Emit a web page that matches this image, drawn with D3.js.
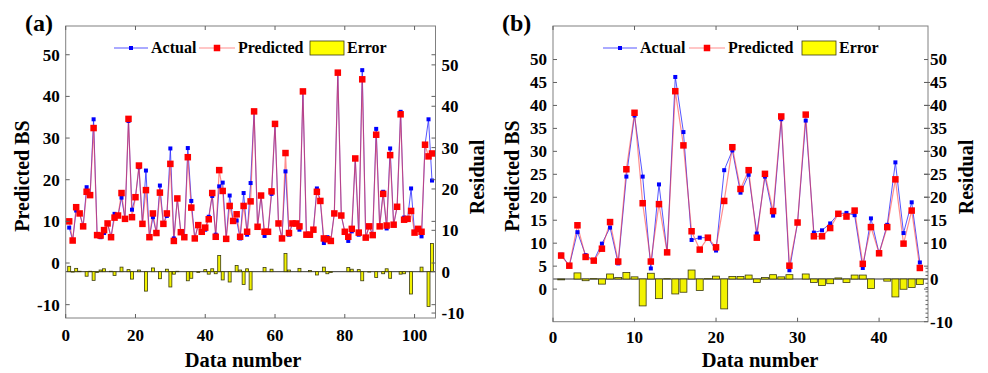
<!DOCTYPE html>
<html><head><meta charset="utf-8">
<script src="https://cdn.jsdelivr.net/npm/d3@7"></script>
<style>
body{margin:0;background:#fff}
svg{display:block}
text{font-family:"Liberation Serif","Times New Roman",serif;font-weight:bold;fill:#000}
</style>
</head><body>
<svg id="chart" width="988" height="373"></svg>
<script>
// ---------- data: panel (a) training set ----------
const predA = [10.0,5.4,13.4,11.9,8.8,17.1,16.3,32.4,6.7,6.6,
 7.9,9.5,6.2,10.9,11.4,16.8,10.6,34.6,11.0,15.8,
 23.4,9.4,17.5,6.2,11.9,7.2,16.9,9.4,11.9,23.8,
 5.3,15.5,7.4,6.2,25.4,13.3,5.9,9.1,7.5,8.5,
 10.5,16.8,6.3,22.3,17.3,5.8,13.7,10.1,11.7,6.3,
 13.7,7.5,14.8,36.4,8.7,16.2,7.5,7.5,17.2,33.4,
 9.5,5.9,26.4,7.2,9.5,9.5,8.8,41.2,6.8,6.8,
 8.0,17.1,14.9,5.9,5.7,5.3,11.9,45.7,11.4,7.5,
 6.3,8.2,25.1,7.3,44.1,6.1,8.8,6.7,30.8,8.8,
 16.6,9.0,25.9,9.2,13.5,35.7,10.4,10.6,12.5,7.3,
 8.2,7.5,28.4,25.6,26.3];
const actA = [8.5,5.5,12.6,11.9,8.8,18.2,16.3,34.5,6.9,6.2,
 7.2,9.5,6.2,11.8,11.4,15.7,10.6,34.1,12.8,15.8,
 23.0,9.4,22.2,6.2,11.0,7.2,18.6,9.4,11.3,27.5,
 5.9,15.5,7.4,6.2,27.6,14.9,5.9,9.3,7.5,8.0,
 11.1,16.1,6.8,18.4,19.3,5.8,16.2,10.1,10.2,5.9,
 16.8,6.8,19.2,36.4,8.7,16.2,6.5,7.5,16.6,33.4,
 9.5,5.9,22.0,6.8,9.5,9.5,8.0,41.2,6.8,6.5,
 8.0,17.9,14.9,4.8,6.2,5.5,11.9,45.7,11.4,7.5,
 5.3,7.6,25.1,6.8,46.3,6.1,8.9,6.7,32.2,8.8,
 17.1,8.3,27.5,9.2,13.5,36.3,10.9,10.6,17.9,7.3,
 8.2,6.4,28.4,34.5,19.8];
const errA = [1.3,-0.1,0.8,0.1,0.0,-1.1,0.1,-2.1,-0.2,0.4,
 0.7,0.0,0.1,-0.9,0.0,1.1,0.0,0.5,-1.8,0.0,
 0.4,0.0,-4.7,0.0,0.9,0.0,-1.7,0.0,0.6,-3.7,
 -0.6,0.1,0.0,0.0,-2.2,-1.6,0.0,-0.2,0.0,0.5,
 -0.6,0.7,-0.5,3.9,-2.0,0.0,-2.5,0.0,1.5,0.4,
 -3.1,0.7,-4.4,0.0,0.0,0.0,1.0,0.0,0.6,0.0,
 0.0,0.0,4.4,0.4,0.0,0.0,0.8,0.0,0.0,0.3,
 0.0,-0.8,0.0,1.1,-0.5,-0.2,0.0,0.0,0.0,0.0,
 1.0,0.6,0.0,0.5,-2.2,0.0,-0.1,0.0,-1.4,0.0,
 -0.5,0.7,-1.6,0.0,0.0,-0.6,-0.5,0.0,-5.4,0.0,
 0.0,1.1,0.0,-8.4,6.8];

// ---------- data: panel (b) testing set ----------
const predB = [7.3,5.1,13.9,7.0,6.2,8.8,14.6,6.0,26.1,38.4,
 18.7,6.0,18.5,8.0,43.1,31.3,12.6,8.6,11.2,9.1,
 19.2,30.9,21.8,25.9,11.2,25.1,17.0,37.6,5.1,14.5,
 38.0,11.5,11.5,13.3,16.4,15.8,17.1,5.5,13.5,7.8,
 13.5,23.9,9.9,17.1,4.6];
const actB = [7.5,5.1,12.4,7.4,6.2,9.9,13.4,5.6,24.5,37.8,
 24.5,4.5,22.8,8.0,46.2,34.2,10.7,11.2,11.2,8.4,
 25.9,30.2,21.0,24.9,12.1,24.5,16.0,37.0,4.1,14.5,
 36.7,12.3,12.8,14.3,16.4,16.6,16.1,4.6,15.4,7.8,
 14.0,27.6,12.2,18.9,5.8];
const errB = [-0.2,0.0,1.7,-0.4,0.1,-1.2,1.4,0.4,1.8,0.6,
 -6.3,1.6,-4.6,0.1,-3.5,-3.1,2.5,-2.7,0.1,0.8,
 -7.0,0.7,0.7,1.1,-0.8,0.4,1.2,0.6,1.2,0.0,
 1.4,-0.8,-1.5,-1.1,0.3,-0.8,1.1,1.1,-2.2,0.0,
 -0.5,-4.2,-2.4,-2.0,-1.3];

// ---------- tick labels ----------
const xTicksA = [0,20,40,60,80,100];
const yTicksA = [-10,0,10,20,30,40,50];
const rTicksA = [-10,0,10,20,30,40,50];
const xTicksB = [0,10,20,30,40];
const yTicksB = [0,5,10,15,20,25,30,35,40,45,50];
const rTicksB = [-10,0,10,15,20,25,30,35,40,45,50];
const rMinorB = [-9,-8,-7,-6,-5,-4,-3,-2,-1,1,2,3];
const legendLabels = ["Actual","Predicted","Error"];
const panelLabels = ["(a)","(b)"];
const xTitle = "Data number", yTitle = "Predicted BS", rTitle = "Residual";

const svg = d3.select("#chart");

function panel(cfg) {
  const {L,R,T,B} = cfg;
  const n = cfg.pred.length;
  const idx = d3.range(1, n + 1);
  const x = d3.scaleLinear().domain(cfg.xDom).range([L,R]);
  const y = d3.scaleLinear().domain(cfg.yDom).range([B,T]);
  const r = d3.scaleLinear().domain(cfg.rDom).range(cfg.rRange);
  const g = svg.append("g");
  const step = x(2) - x(1);
  const bw = step * cfg.barFrac;

  // bars (residual, right axis)
  g.append("line").attr("x1",L).attr("x2",R).attr("y1",r(0)).attr("y2",r(0))
    .attr("stroke","#333").attr("stroke-width",1);
  g.selectAll("rect.bar").data(cfg.err).join("rect").attr("class","bar")
    .attr("x",(d,i)=>x(idx[i]) - bw/2)
    .attr("y",d=>Math.min(r(d), r(0)))
    .attr("width",bw)
    .attr("height",d=>Math.abs(r(d)-r(0)))
    .attr("fill","#f2f200").attr("stroke","#3a3a10").attr("stroke-width",0.8);

  // lines
  const lineGen = arr => d3.line().x((d,i)=>x(idx[i])).y(d=>y(d))(arr);
  g.append("path").attr("d",lineGen(cfg.act)).attr("fill","none")
    .attr("stroke","#2a2aff").attr("stroke-opacity",0.8).attr("stroke-width",1);
  g.append("path").attr("d",lineGen(cfg.pred)).attr("fill","none")
    .attr("stroke","#ff3030").attr("stroke-opacity",0.55).attr("stroke-width",1.2);
  const bs = 4, rs = 6.5;
  g.selectAll("rect.am").data(cfg.act).join("rect").attr("class","am")
    .attr("x",(d,i)=>x(idx[i])-bs/2).attr("y",d=>y(d)-bs/2)
    .attr("width",bs).attr("height",bs).attr("fill","#0000ff");
  g.selectAll("rect.pm").data(cfg.pred).join("rect").attr("class","pm")
    .attr("x",(d,i)=>x(idx[i])-rs/2).attr("y",d=>y(d)-rs/2)
    .attr("width",rs).attr("height",rs).attr("fill","#ff0000");

  // box
  g.append("rect").attr("x",L).attr("y",T).attr("width",R-L).attr("height",B-T)
    .attr("fill","none").attr("stroke","#808080").attr("stroke-width",1);

  const tk = 4, tc = "#606060";
  // x ticks (bottom + top, inward)
  cfg.xTicks.forEach(v=>{
    g.append("line").attr("x1",x(v)).attr("x2",x(v)).attr("y1",B).attr("y2",B-tk).attr("stroke",tc);
    g.append("line").attr("x1",x(v)).attr("x2",x(v)).attr("y1",T).attr("y2",T+tk).attr("stroke",tc);
    g.append("text").attr("x",x(v)).attr("y",cfg.xLabY).attr("text-anchor","middle")
      .attr("font-size",17).text(v);
  });
  // left ticks (left side + mirrored on right)
  cfg.yTicks.forEach(v=>{
    g.append("line").attr("x1",L).attr("x2",L+tk).attr("y1",y(v)).attr("y2",y(v)).attr("stroke",tc);
    g.append("line").attr("x1",R).attr("x2",R-tk).attr("y1",y(v)).attr("y2",y(v)).attr("stroke",tc);
    g.append("text").attr("x",L-6).attr("y",y(v)).attr("dy","0.35em").attr("text-anchor","end")
      .attr("font-size",17).text(v);
  });
  // right ticks
  cfg.rTicks.forEach(v=>{
    g.append("line").attr("x1",R+cfg.rOut(v)).attr("x2",R-tk).attr("y1",r(v)).attr("y2",r(v)).attr("stroke",tc);
    g.append("text").attr("x",R+cfg.rLabGap).attr("y",r(v)).attr("dy","0.35em").attr("text-anchor","start")
      .attr("font-size",17).text(v);
  });
  (cfg.rMinor||[]).forEach(v=>{
    g.append("line").attr("x1",R).attr("x2",R-2.5).attr("y1",r(v)).attr("y2",r(v)).attr("stroke",tc);
  });

  // titles
  g.append("text").attr("x",cfg.xTitleX).attr("y",367).attr("text-anchor","middle")
    .attr("font-size",20.5).text(xTitle);
  g.append("text").attr("transform",`translate(${cfg.yTitleX},176) rotate(-90)`)
    .attr("text-anchor","middle").attr("dy","0.35em").attr("font-size",20).text(yTitle);
  g.append("text").attr("transform",`translate(${cfg.rTitleX},177) rotate(-90)`)
    .attr("text-anchor","middle").attr("dy","0.35em").attr("font-size",20).text(rTitle);
  g.append("text").attr("x",cfg.panelX).attr("y",31).attr("font-size",24).text(cfg.panelLabel);

  // legend
  const lg = cfg.leg, ly = 48;
  g.append("line").attr("x1",lg[0]).attr("x2",lg[0]+34).attr("y1",ly).attr("y2",ly)
    .attr("stroke","#2a2aff").attr("stroke-opacity",0.8);
  g.append("rect").attr("x",lg[0]+17-bs/2).attr("y",ly-bs/2).attr("width",bs).attr("height",bs).attr("fill","#0000ff");
  g.append("text").attr("x",lg[0]+37).attr("y",ly).attr("dy","0.33em").attr("font-size",16).text(legendLabels[0]);
  g.append("line").attr("x1",lg[1]).attr("x2",lg[1]+36).attr("y1",ly).attr("y2",ly)
    .attr("stroke","#ff3030").attr("stroke-opacity",0.55).attr("stroke-width",1.2);
  g.append("rect").attr("x",lg[1]+18-rs/2).attr("y",ly-rs/2).attr("width",rs).attr("height",rs).attr("fill","#ff0000");
  g.append("text").attr("x",lg[1]+39).attr("y",ly).attr("dy","0.33em").attr("font-size",16).text(legendLabels[1]);
  g.append("rect").attr("x",lg[2]).attr("y",ly-7).attr("width",34).attr("height",14)
    .attr("fill","#ffff00").attr("stroke","#3a3a10").attr("stroke-width",0.8);
  g.append("text").attr("x",lg[2]+37).attr("y",ly).attr("dy","0.33em").attr("font-size",16).text(legendLabels[2]);
}

panel({
  L:65.7, R:435.5, T:26, B:318,
  xDom:[0,106], yDom:[-13.2,56.9], rDom:[-11.2,59.4], rRange:[318,26],
  pred:predA, act:actA, err:errA, barFrac:0.85,
  xTicks:xTicksA, yTicks:yTicksA, rTicks:rTicksA, rOut:()=>0, rLabGap:6,
  xLabY:341, xTitleX:243, yTitleX:22, rTitleX:477, panelX:25, panelLabel:panelLabels[0],
  leg:[114,199,310]
});
panel({
  L:553, R:928, T:26, B:321.7,
  xDom:[0,46], yDom:[-7.1,57.3], rDom:[-10,0,10,57.3], rRange:[321.7,279,243.1,26],
  pred:predB, act:actB, err:errB, barFrac:0.85,
  xTicks:xTicksB, yTicks:yTicksB, rTicks:rTicksB, rMinor:rMinorB,
  rOut:v=>(v>10 && v<50 ? 2 : 0), rLabGap:2,
  xLabY:343, xTitleX:760, yTitleX:512, rTitleX:966, panelX:502, panelLabel:panelLabels[1],
  leg:[603,689,802]
});
</script>
</body></html>
